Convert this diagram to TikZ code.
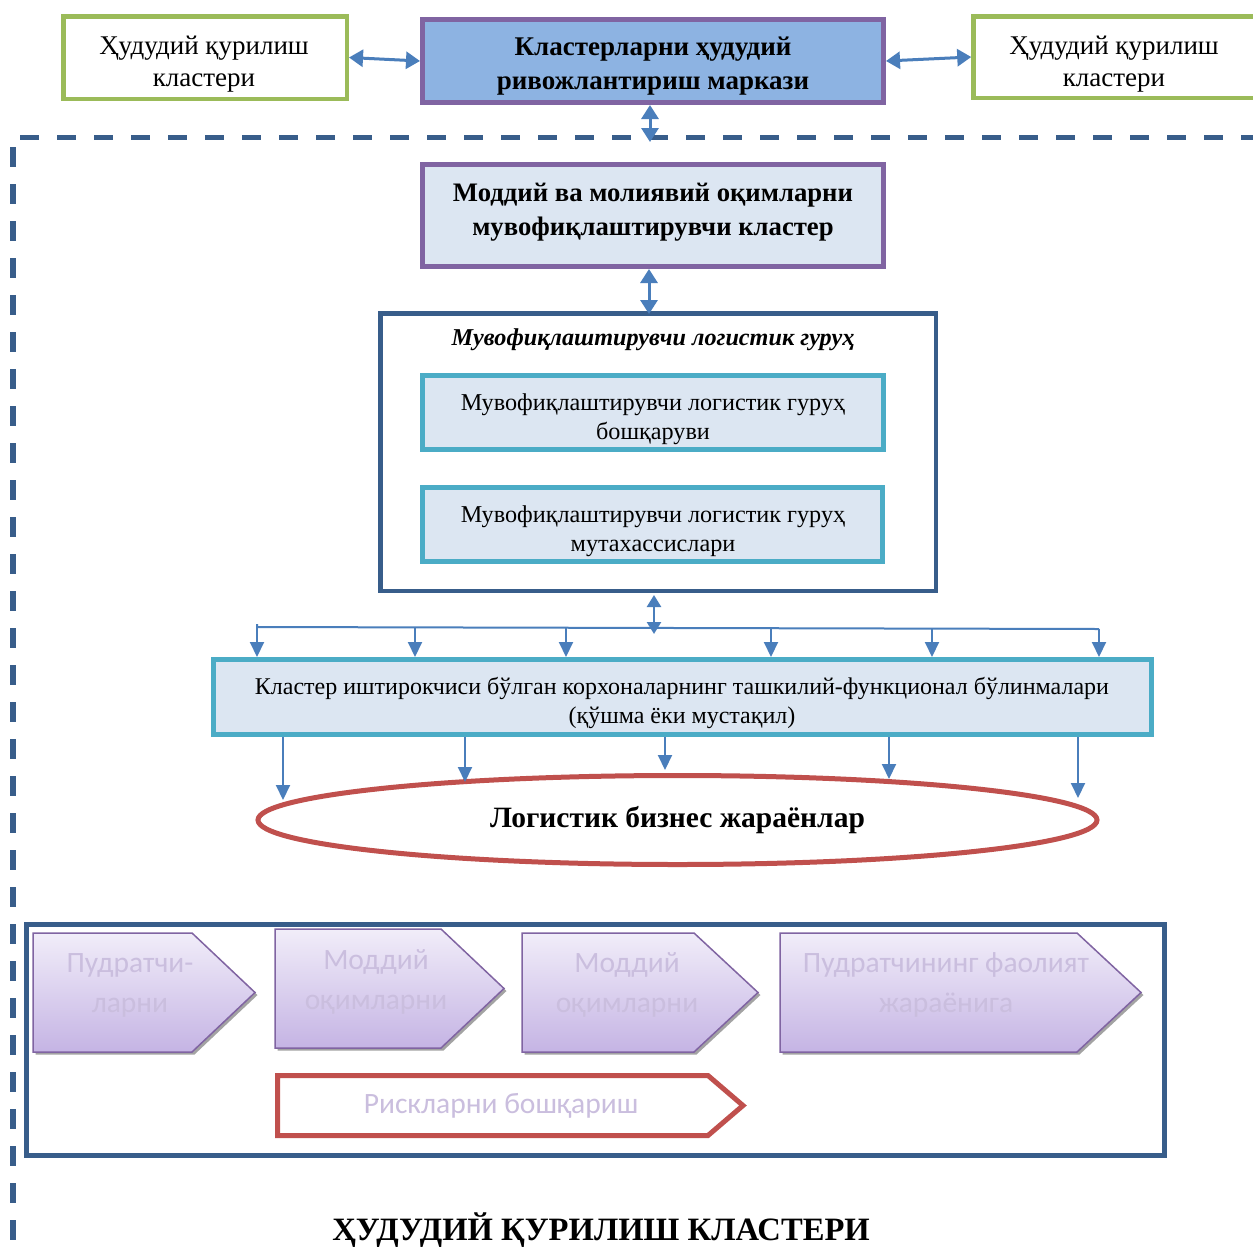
\documentclass[tikz,border=0pt]{standalone}
\usepackage{fontspec}
\setmainfont{Liberation Serif}
\newfontfamily\calibfont{Carlito}
\usetikzlibrary{arrows.meta,shapes.geometric,shadows}
\definecolor{grn}{RGB}{155,187,89}
\definecolor{prp}{RGB}{128,100,162}
\definecolor{bluefill}{RGB}{141,179,226}
\definecolor{lightfill}{RGB}{220,230,242}
\definecolor{cyanb}{RGB}{75,172,198}
\definecolor{darkb}{RGB}{56,93,138}
\definecolor{redb}{RGB}{192,80,77}
\definecolor{arrc}{RGB}{74,126,187}
\definecolor{chevtop}{RGB}{241,237,249}
\definecolor{chevbot}{RGB}{197,180,228}
\definecolor{chevtxt}{RGB}{202,190,222}
\begin{document}
\begin{tikzpicture}[x=1pt,y=-1pt,
  boxnode/.style={rectangle, inner sep=0pt},
  txt/.style={align=center, inner sep=0pt},
  regtxt/.style={txt, font=\fontsize{27}{32}\selectfont},
  dbl/.style={draw=arrc, line width=3pt, arrows={Triangle[width=17pt,length=14pt]-Triangle[width=17pt,length=14pt]}},
  dnarr/.style={draw=arrc, line width=2pt, arrows={-Triangle[width=14pt,length=15pt]}},
  busline/.style={draw=arrc, line width=2pt},
  dashln/.style={draw=darkb, line width=5.5pt},
  chev/.style={draw=prp, line width=1.5pt, top color=chevtop, bottom color=chevbot,
     drop shadow={shadow xshift=2.5pt, shadow yshift=-2.5pt, fill=black!45, opacity=0.8}},
  chevtext/.style={txt, text=chevtxt, font=\calibfont\fontsize{29.5}{40}\selectfont}
]
\useasboundingbox (0,0) rectangle (1253,1254);
\fill[white] (0,0) rectangle (1253,1254);

% dashed frame
\draw[dashln, dash pattern=on 19pt off 18pt] (20,137.5) -- (1253,137.5);
\draw[dashln, dash pattern=on 20pt off 17pt] (13,147) -- (13,1254);

% top row
\node[boxnode, draw=grn, line width=4.5pt, fill=white, minimum width=283.5pt, minimum height=82.5pt] (lg) at (205,57.5) {};
\node[regtxt] (lgt) at (204,64) {Ҳудудий қурилиш\\кластери};
\node[boxnode, draw=prp, line width=5pt, fill=bluefill, minimum width=461pt, minimum height=83pt] (tc) at (653,61) {};
\node[txt, font=\bfseries\fontsize{27}{34}\selectfont] (tct) at (653,66) {Кластерларни ҳудудий\\ривожлантириш маркази};
\node[boxnode, draw=grn, line width=4.5pt, fill=white, minimum width=304pt, minimum height=81.5pt] (rg) at (1125.5,57) {};
\node[regtxt] (rgt) at (1114,64) {Ҳудудий қурилиш\\кластери};
\draw[dbl] (lg.east) -- (tc.west);
\draw[dbl] (tc.east) -- (rg.west);
\coordinate (t1) at ([xshift=-3pt]tc.south);
\coordinate (dtop) at (650,142);
\draw[dbl] (t1) -- (dtop);

% coordinating cluster council
\node[boxnode, draw=prp, line width=5pt, fill=lightfill, minimum width=461pt, minimum height=102pt] (pb) at (653,215.5) {};
\node[txt, font=\bfseries\fontsize{26.7}{34}\selectfont] (pbt) at (653,212.5) {Моддий ва молиявий оқимларни\\мувофиқлаштирувчи кластер};

% logistic group
\node[boxnode, draw=darkb, line width=4.5pt, fill=white, minimum width=555.5pt, minimum height=277.5pt] (grp) at (658,452) {};
\coordinate (a1) at ([xshift=-4pt]pb.south);
\draw[dbl] (a1) -- ([yshift=-3pt]a1 |- grp.north);
\node[txt, font=\bfseries\itshape\fontsize{24.2}{30}\selectfont] (grpt) at (653,340) {Мувофиқлаштирувчи логистик гуруҳ};
\node[boxnode, draw=cyanb, line width=5pt, fill=lightfill, minimum width=461pt, minimum height=74pt] (ib1) at (653,412.5) {};
\node[txt, font=\fontsize{24.2}{29}\selectfont] (ib1t) at (653,419) {Мувофиқлаштирувчи логистик гуруҳ\\бошқаруви};
\node[boxnode, draw=cyanb, line width=5pt, fill=lightfill, minimum width=460pt, minimum height=74pt] (ib2) at (652.5,524.5) {};
\node[txt, font=\fontsize{24.2}{29}\selectfont] (ib2t) at (653,531) {Мувофиқлаштирувчи логистик гуруҳ\\мутахассислари};

% divisions box
\node[boxnode, draw=cyanb, line width=5pt, fill=lightfill, minimum width=938pt, minimum height=75pt] (kb) at (682.5,697) {};
\node[txt, font=\fontsize{24}{28.5}\selectfont] (kbt) at (682,703) {Кластер иштирокчиси бўлган корхоналарнинг ташкилий-функционал бўлинмалари\\(қўшма ёки мустақил)};

\coordinate (a2) at (654,595);
\coordinate (a3) at (654,634);
\draw[dbl, line width=2.5pt, arrows={Triangle[width=14pt,length=12pt]-Triangle[width=14pt,length=12pt]}] (a2) -- (a3);
\coordinate (bl) at (257,627);
\coordinate (br) at (1099,629);
\draw[busline] (257,624) -- (bl) -- (br);
\foreach \x/\y [count=\i] in {257/624, 415/627.5, 566/627.7, 771/628.1, 932/628.4, 1099/629} {
  \coordinate (b\i) at (\x,\y);
  \draw[dnarr] (b\i) -- (b\i |- kb.north);
}

% ellipse
\node[ellipse, draw=redb, line width=5pt, fill=white, minimum width=839pt, minimum height=89pt, inner sep=0pt,
      font=\bfseries\fontsize{29.5}{34}\selectfont] (ell) at (677.5,820) {Логистик бизнес жараёнлар};
\foreach \x/\y [count=\i] in {283/800, 465/782, 665/770, 889/779, 1078/798} {
  \coordinate (e\i) at (\x,\y);
  \draw[dnarr] (e\i |- kb.south) -- (e\i);
}

% bottom box
\node[boxnode, draw=darkb, line width=5pt, fill=white, minimum width=1138pt, minimum height=231pt] (bb) at (595.5,1040) {};
\path[chev] (33,933) -- (192,933) -- (255,992.5) -- (192,1052) -- (33,1052) -- cycle;
\path[chev] (275,929) -- (441,929) -- (504,988.5) -- (441,1048) -- (275,1048) -- cycle;
\path[chev] (522,933) -- (694,933) -- (758,992.5) -- (694,1052) -- (522,1052) -- cycle;
\path[chev] (780,933) -- (1077,933) -- (1141,992.5) -- (1077,1052) -- (780,1052) -- cycle;
\node[chevtext] (c1t) at (130,985) {Пудратчи-\\ларни};
\node[chevtext] (c2t) at (376,982) {Моддий\\оқимларни};
\node[chevtext] (c3t) at (627,985) {Моддий\\оқимларни};
\node[chevtext] (c4t) at (946,985) {Пудратчининг фаолият\\жараёнига};
\draw[redb, line width=5pt, fill=white] (277.5,1075.5) -- (708,1075.5) -- (743,1105.5) -- (708,1135.5) -- (277.5,1135.5) -- cycle;
\node[chevtext] (rt) at (501,1106) {Рискларни бошқариш};

% title
\node[txt, font=\bfseries\fontsize{32.6}{38}\selectfont] (ttl) at (601,1230) {ҲУДУДИЙ ҚУРИЛИШ КЛАСТЕРИ};
\end{tikzpicture}
\end{document}
